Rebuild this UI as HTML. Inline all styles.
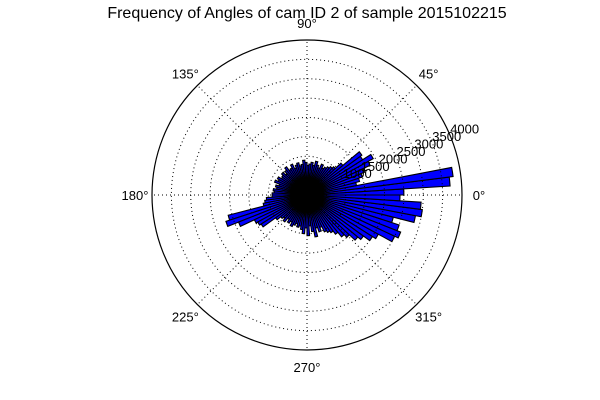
<!DOCTYPE html>
<html><head><meta charset="utf-8"><style>
html,body{margin:0;padding:0;background:#fff;}
svg{display:block;font-family:"Liberation Sans",sans-serif;}
</style></head><body>
<svg id="chart" width="600" height="400" viewBox="0 0 600 400">
<rect width="600" height="400" fill="#fff"/>
<text x="307" y="18" font-size="16" text-anchor="middle">Frequency of Angles of cam ID 2 of sample 2015102215</text>
<g id="bars"></g><g id="grid"></g><g id="labels"></g>
</svg>
<script>
const binCounts = [2500,3700,3800,1300,1400,1500,1600,1800,1950,1700,1750,1200,1000,950,900,
850,800,880,760,820,900,780,850,800,760,840,900,800,770,860,
820,750,880,800,780,900,830,760,850,800,780,870,820,900,760,840,800,880,850,900,
900,1050,1100,1150,2100,2200,1900,1500,1450,1400,1000,
880,820,900,780,860,800,900,840,780,860,820,
900,1000,850,1050,800,950,1100,880,1000,900,1050,
1100,1150,1250,1400,1500,1700,1800,2000,2100,2500,2600,2500,2300,2850,3000,2950,2400];
const radialTicks = [500,1000,1500,2000,2500,3000,3500,4000];
const radialTickLabels = ["","1000","1500","2000","2500","3000","3500","4000"];
const angleTicks = [0,45,90,135,180,225,270,315];
const rMax = 4000;
const cx=307, cy=195, R=155;
const NS="http://www.w3.org/2000/svg";
function rScale(v){return v/rMax*R;}
function pt(deg,r){const a=deg*Math.PI/180;return [cx+r*Math.cos(a), cy-r*Math.sin(a)];}
const bars=document.getElementById('bars');
const w=360/binCounts.length;
binCounts.forEach((v,i)=>{
  const r=rScale(v), a0=i*w, a1=(i+1)*w;
  const p0=pt(a0,r), p1=pt(a1,r);
  const p=document.createElementNS(NS,'path');
  p.setAttribute('d',`M${cx},${cy}L${p0[0]},${p0[1]}A${r},${r} 0 0 0 ${p1[0]},${p1[1]}Z`);
  p.setAttribute('fill','#0000ff');p.setAttribute('stroke','#000');p.setAttribute('stroke-width','1.1');
  
  
  bars.appendChild(p);
});
const grid=document.getElementById('grid');
radialTicks.forEach((t,i)=>{
  const c=document.createElementNS(NS,'circle');
  c.setAttribute('cx',cx);c.setAttribute('cy',cy);c.setAttribute('r',rScale(t));c.setAttribute('fill','none');
  if(t===rMax){c.setAttribute('stroke','#000');c.setAttribute('stroke-width','1.2');}
  else{c.setAttribute('stroke','#000');c.setAttribute('stroke-width','1');c.setAttribute('stroke-dasharray','1 3');}
  
  
  grid.appendChild(c);
});
angleTicks.forEach(a=>{
  const e=pt(a,R);
  const l=document.createElementNS(NS,'line');
  l.setAttribute('x1',cx);l.setAttribute('y1',cy);l.setAttribute('x2',e[0]);l.setAttribute('y2',e[1]);
  l.setAttribute('stroke','#000');l.setAttribute('stroke-dasharray','1 3');
  
  
  grid.appendChild(l);
});
const labels=document.getElementById('labels');
angleTicks.forEach(a=>{
  const p=pt(a,R+17);
  const t=document.createElementNS(NS,'text');
  t.setAttribute('x',p[0]);t.setAttribute('y',p[1]+5);t.setAttribute('font-size','13');t.setAttribute('text-anchor','middle');
  t.textContent=a+'°';
  
  
  labels.appendChild(t);
});
radialTicks.forEach((v,i)=>{
  if(!radialTickLabels[i])return;
  const p=pt(22.5,rScale(v));
  const t=document.createElementNS(NS,'text');
  t.setAttribute('x',p[0]);t.setAttribute('y',p[1]-2);t.setAttribute('font-size','13');
  t.textContent=radialTickLabels[i];
  
  
  labels.appendChild(t);
});
</script>
</body></html>
